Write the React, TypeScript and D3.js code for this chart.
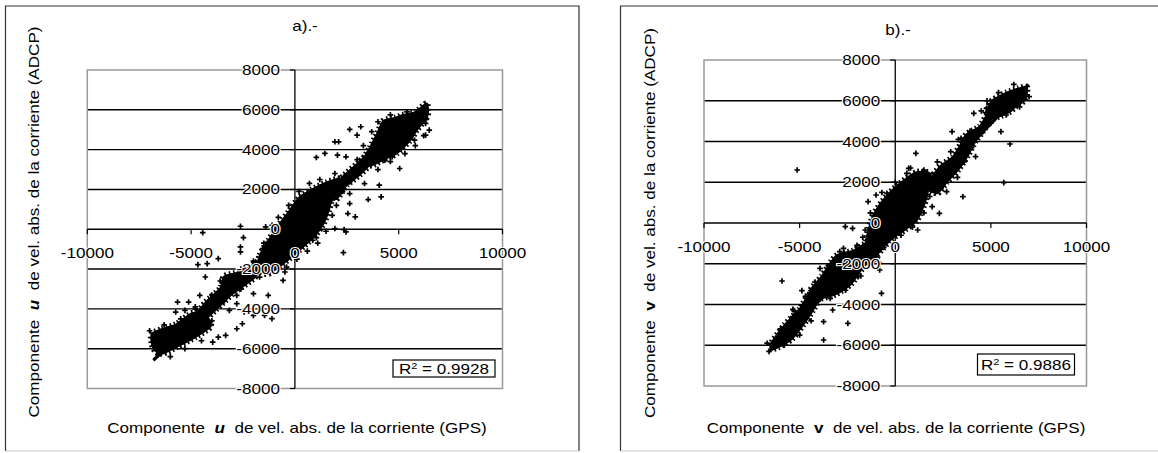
import React from "react";
import * as d3 from "d3";

// axis ticks shared by both panels
const xTicks = [-10000, -5000, 0, 5000, 10000];
const yTicks = [-8000, -6000, -4000, -2000, 0, 2000, 4000, 6000, 8000];
const xTickLabels = ["-10000", "-5000", "0", "5000", "10000"];
const yTickLabels = ["-8000", "-6000", "-4000", "-2000", "0", "2000", "4000", "6000", "8000"];

// panel a) u component: dense clouds (outlines read off the picture) + scattered points
const uClouds: [number, number][][] = [
  [[3200, 3300], [3600, 4100], [3950, 4800], [4250, 5450], [4800, 5600], [5200, 5750], [5800, 5900], [6350, 6330], [6400, 5700], [5900, 5000], [5550, 4450], [4900, 3800], [4300, 3500], [3700, 3200]],
  [[1600, 1900], [2400, 2750], [3000, 3300], [3500, 3750], [3650, 3300], [3100, 2700], [2500, 2200], [2000, 1500]],
  [[-1800, -2000], [-1700, -1300], [-1250, -500], [-800, 200], [-300, 900], [200, 1600], [800, 2000], [1500, 2350], [2150, 2550], [2250, 2000], [1800, 1500], [1650, 950], [1400, 300], [1000, -300], [450, -850], [-100, -1350], [-700, -1850], [-1300, -2250]],
  [[-1600, -1500], [-2500, -2100], [-3400, -2350], [-3600, -2950], [-4300, -3650], [-4750, -4300], [-4450, -4650], [-3800, -4050], [-3000, -3250], [-1900, -2400]],
  [[-6900, -5250], [-6400, -5000], [-5700, -4750], [-4950, -4200], [-4250, -4350], [-4050, -4900], [-4750, -5400], [-5650, -5900], [-6350, -6250], [-6750, -6100], [-6900, -5750]],
];
const uPoints: [number, number][] = [
  [2639, 5014], [3174, 5148], [2996, 4729], [1926, 4394], [2104, 4394], [1034, 3606], [1444, 3807], [2050, 3723], [2461, 3639],
  [4333, 3472], [4690, 3639], [5047, 3052], [5760, 4478], [6295, 4729], [6473, 4981], [6295, 5316], [1926, 2801], [2372, 2633],
  [2639, 2381], [3352, 2297], [4065, 2214], [3530, 1493], [4154, 1627], [2639, 1794], [2639, 1291], [2550, 788], [2907, 620],
  [2372, -17], [2461, -134], [1926, 34], [2336, -1174], [1034, -419], [856, -553],
  [-4440, -168], [-2621, 151], [-1408, 117], [-927, 117], [-2478, -419], [-2621, -889], [-2621, -1140], [-1373, -721], [-1551, -973],
  [-3691, -1476], [-4672, -1778], [-4226, -1727], [-1194, -1392], [-749, -1727], [-481, -2147], [-571, -2566], [-4315, -2398],
  [-4583, -3320], [-4048, -3455], [-3335, -3237], [-2800, -3320], [-1997, -3237], [-1284, -3320], [-2800, -3740], [-2443, -4159],
  [-3156, -4075], [-1997, -4327], [-1462, -4327], [-1105, -4494], [-2532, -4746], [-2800, -4998], [-3335, -5333], [-3691, -5417],
  [-3959, -5668], [-5652, -3656], [-5117, -3656], [-5295, -4075], [-5741, -4159],
  [-1900, -1700], [-1500, -700], [-1100, 200], [-800, 600], [-300, 1200], [200, 1900], [700, 2300], [1200, 2500], [2300, 1900],
  [2000, 1200], [1800, 700], [1500, -100], [1100, -700], [600, -1100], [100, -1500], [-400, -1900],
  [3000, 3500], [3300, 4200], [3700, 4900], [4000, 5400], [4600, 5750], [5400, 5900], [6300, 5500], [6200, 4700], [5800, 4200],
  [5300, 3800], [4600, 3400], [4000, 3000],
  [-7000, -5100], [-6700, -5300], [-6300, -4800], [-5500, -4500], [-4800, -4000], [-4000, -4600], [-4500, -5600], [-5300, -6000],
  [-6000, -6400], [-6600, -6300],
  [-2000, -1600], [-2600, -2000], [-3600, -2600], [-4000, -3300], [-4800, -3900], [-3400, -3600], [-2600, -3000], [-1700, -2400],
];
const uTrend = { slope: 0.971, intercept: 40, xMin: -6820, xMax: 6430 };
const uR2 = "0.9928";

// panel b) v component
const vClouds: [number, number][][] = [
  [[4700, 5300], [4900, 5800], [5100, 6050], [5800, 6400], [6400, 6600], [6850, 6700], [6900, 6400], [6750, 6000], [6300, 5700], [6000, 5450], [5400, 5200], [5000, 5100]],
  [[1500, 1800], [2000, 2400], [2400, 2850], [3000, 3250], [3400, 3850], [3700, 4350], [4400, 4750], [4800, 5300], [5100, 5200], [4600, 4500], [4200, 4000], [3800, 3300], [3300, 2600], [2700, 2000], [2200, 1450]],
  [[-1550, -900], [-1150, 400], [-450, 1350], [300, 2000], [1100, 2500], [1850, 2400], [1600, 1100], [1150, 150], [500, -350], [-250, -850], [-900, -1500], [-1500, -1700]],
  [[-1300, -900], [-2200, -1350], [-3100, -1600], [-3850, -2600], [-4450, -3300], [-4300, -3750], [-3800, -3700], [-3100, -3500], [-2300, -3000], [-1600, -2100], [-900, -1600]],
  [[-4450, -3400], [-5000, -4200], [-5800, -5000], [-6500, -5900], [-6500, -6200], [-6100, -6100], [-5400, -5700], [-4800, -5000], [-4300, -4300], [-4000, -3700]],
];
const vPoints: [number, number][] = [
  [-5127, 2601], [-1419, 1047], [-1003, 1374], [-435, 1456], [605, 2438], [700, 2683], [1078, 3419], [2970, 4483], [3443, 4155],
  [4200, 3256], [4106, 5382], [4768, 5628], [5525, 4483], [5998, 3877], [5676, 1980], [3254, 2241], [3538, 1292], [2687, 1538],
  [2308, 474], [1930, 802], [1173, -344], [-2611, -180], [-2232, -262], [-1570, -344], [-1381, -834], [-2705, -1243], [-1097, -1816],
  [-814, -1980], [-814, -2307], [-1949, -2634], [-719, -3452], [-3935, -2225], [-5922, -2847], [-4881, -3321], [-5354, -4237],
  [-3746, -4843], [-3273, -4270], [-2479, -4924], [-3746, -5742], [-4408, -3943], [-5354, -4597],
  [-1700, -700], [-1300, 500], [-700, 1500], [0, 2000], [800, 2700], [1500, 2600], [2000, 2000], [1800, 1300], [1500, 500],
  [900, -200], [300, -600], [-600, -1200],
  [4500, 5500], [4800, 6000], [5400, 6400], [6200, 6800], [6900, 6700], [7000, 6200], [6500, 5700], [5800, 5300], [5000, 4900],
  [1700, 2300], [2200, 3000], [2900, 3500], [3300, 4100], [3900, 4500], [4500, 4400], [4000, 3700], [3600, 3000], [3000, 2400], [2500, 1800],
  [-1200, -800], [-2000, -1100], [-2900, -1400], [-3500, -2100], [-4200, -2900], [-4700, -3600], [-3400, -3700], [-2600, -3300],
  [-1800, -2600], [-1200, -2000],
  [-5300, -4300], [-6000, -5200], [-6700, -5900], [-6600, -6300], [-5800, -6000], [-5000, -5500], [-4400, -4800],
];
const vTrend = { slope: 0.9675, intercept: 37, xMin: -6490, xMax: 6850 };
const vR2 = "0.9886";

const FONT = "'Liberation Sans', Arial, sans-serif";
const SX = 1.22; // the reference glyphs are wide

const uLayout = {
  frame: [5.5, 6, 579, 451], plot: { l: 87.3, r: 502.5, t: 70, b: 388.5 },
  title: [305, 31], xTitle: [297, 432.5], yTitle: [39, 222], r2: { x: 393, y: 360, w: 102, h: 17 },
};
const vLayout = {
  frame: [620.5, 6, 1165, 451], plot: { l: 704, r: 1086.5, t: 60, b: 386 },
  title: [898, 35], xTitle: [896, 433], yTitle: [655, 223], r2: { x: 977.5, y: 354, w: 97, h: 21 },
};

const Txt = ({ x, y, anchor = "middle", rot = 0, halo = false, children }: any) => (
  <text
    transform={`translate(${x},${y}) rotate(${rot}) scale(${SX},1)`}
    textAnchor={anchor}
    fontFamily={FONT}
    fontSize={14}
    fill="#000"
    stroke={halo ? "#fff" : "none"}
    strokeWidth={halo ? 2 : 0}
    paintOrder="stroke"
    style={{ whiteSpace: "pre" }}
  >
    {children}
  </text>
);

const Panel = ({ layout, clouds, points, trend, r2, title, comp, compStyle }: any) => {
  const { plot } = layout;
  const x = d3.scaleLinear().domain([-10000, 10000]).range([plot.l, plot.r]);
  const y = d3.scaleLinear().domain([-8000, 8000]).range([plot.b, plot.t]);
  const area = d3.line<[number, number]>().x((d) => x(d[0])).y((d) => y(d[1])).curve(d3.curveCardinalClosed.tension(0.3));
  const [fx0, fy0, fx1, fy1] = layout.frame;
  const mk = 2.8;

  return (
    <g>
      {/* chart frame */}
      <path d={`M${fx0},${fy1} V${fy0} H${fx1} V${fy1}`} fill="none" stroke="#333" strokeWidth={1.2} />
      <line x1={fx0} x2={fx1} y1={fy1} y2={fy1} stroke="#c8c8c8" strokeWidth={1.2} />

      {/* gridlines */}
      {yTicks.filter((t) => Math.abs(t) !== 8000 && t !== 0).map((t) => (
        <line key={t} x1={plot.l} x2={plot.r} y1={y(t)} y2={y(t)} stroke="#000" strokeWidth={1.4} />
      ))}
      <rect x={plot.l} y={plot.t} width={plot.r - plot.l} height={plot.b - plot.t} fill="none" stroke="#999" strokeWidth={1.5} />

      {/* axes */}
      <line x1={plot.l} x2={plot.r} y1={y(0)} y2={y(0)} stroke="#000" strokeWidth={1.3} />
      <line x1={x(0)} x2={x(0)} y1={plot.t} y2={plot.b} stroke="#000" strokeWidth={1.3} />
      {xTicks.filter((t) => t !== 0).map((t) => (
        <line key={t} x1={x(t)} x2={x(t)} y1={y(0)} y2={y(0) + 5} stroke="#000" strokeWidth={1.2} />
      ))}
      {yTicks.map((t) => (
        <line key={t} x1={x(0) - 5} x2={x(0)} y1={y(t)} y2={y(t)} stroke="#000" strokeWidth={1.2} />
      ))}

      {/* data: dense clouds, ragged edge */}
      {clouds.map((c: [number, number][], i: number) => (
        <g key={i}>
          <path d={area(c) || ""} fill="#000" stroke="#000" strokeWidth={1.5} strokeLinejoin="round" />
          <path d={area(c) || ""} fill="none" stroke="#000" strokeWidth={6} strokeDasharray="1.6 2.6" />
        </g>
      ))}
      {points.map((p: [number, number], i: number) => (
        <path key={i} d={`M${x(p[0]) - mk},${y(p[1])}h${2 * mk}M${x(p[0])},${y(p[1]) - mk}v${2 * mk}`} stroke="#000" strokeWidth={1.7} />
      ))}
      <line
        x1={x(trend.xMin)} y1={y(trend.slope * trend.xMin + trend.intercept)}
        x2={x(trend.xMax)} y2={y(trend.slope * trend.xMax + trend.intercept)}
        stroke="#000" strokeWidth={3.2}
      />

      {/* tick labels */}
      {yTicks.map((t, i) => (
        <Txt key={t} x={x(0) - 15} y={y(t) + 5} anchor="end" halo>{yTickLabels[i]}</Txt>
      ))}
      {xTicks.map((t, i) => (
        <Txt key={t} x={x(t)} y={y(0) + 29} halo>{xTickLabels[i]}</Txt>
      ))}

      {/* R² box */}
      <rect x={layout.r2.x} y={layout.r2.y} width={layout.r2.w} height={layout.r2.h} fill="#fff" stroke="#000" strokeWidth={1.2} />
      <Txt x={layout.r2.x + layout.r2.w / 2} y={layout.r2.y + layout.r2.h / 2 + 5}>
        R<tspan fontSize={9} dy={-5}>2</tspan><tspan dy={5}>{` = ${r2}`}</tspan>
      </Txt>

      {/* titles */}
      <Txt x={layout.title[0]} y={layout.title[1]}>{title}</Txt>
      <Txt x={layout.xTitle[0]} y={layout.xTitle[1]}>
        {"Componente  "}<tspan {...compStyle}>{comp}</tspan>{"  de vel. abs. de la corriente (GPS)"}
      </Txt>
      <Txt x={layout.yTitle[0]} y={layout.yTitle[1]} rot={-90}>
        {"Componente  "}<tspan {...compStyle}>{comp}</tspan>{"  de vel. abs. de la corriente (ADCP)"}
      </Txt>
    </g>
  );
};

export default function App() {
  return (
    <svg width={1158} height={453} style={{ position: "absolute", left: 0, top: 0, background: "#fff" }}>
      <rect width={1158} height={453} fill="#fff" />
      <Panel layout={uLayout} clouds={uClouds} points={uPoints} trend={uTrend} r2={uR2} title="a).-" comp="u"
        compStyle={{ fontWeight: "bold", fontStyle: "italic" }} />
      <Panel layout={vLayout} clouds={vClouds} points={vPoints} trend={vTrend} r2={vR2} title="b).-" comp="v"
        compStyle={{ fontWeight: "bold" }} />
    </svg>
  );
}
